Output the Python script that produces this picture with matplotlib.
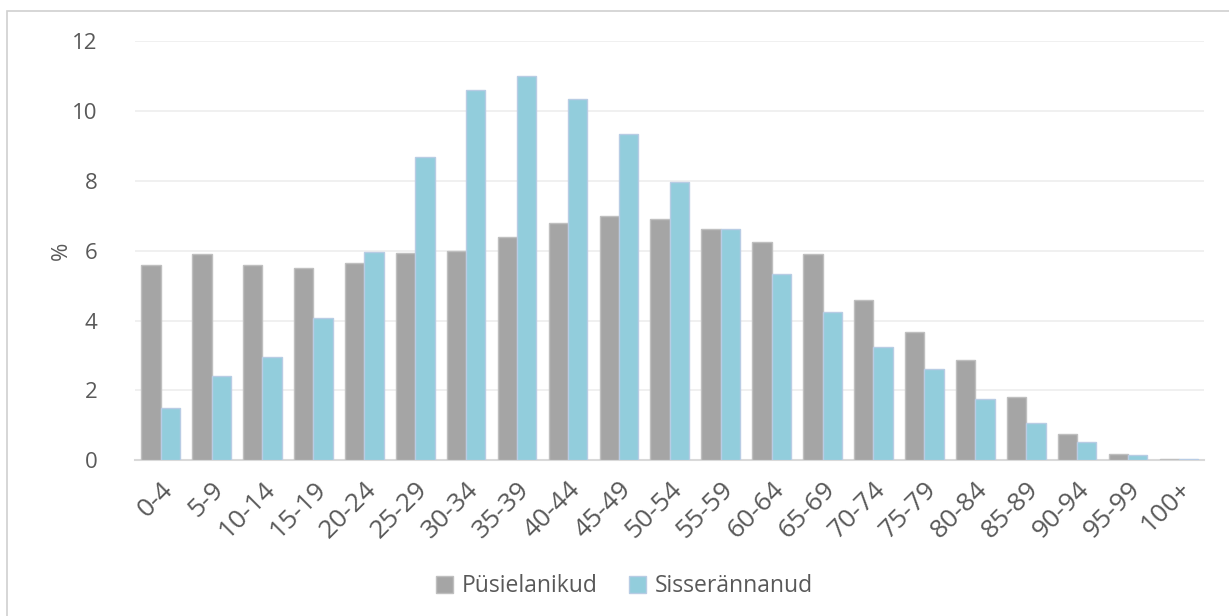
import numpy as np
import matplotlib.pyplot as plt
from matplotlib.patches import Rectangle

plt.rcParams['font.family'] = ['Open Sans', 'DejaVu Sans']

# andmed
vanus = ["0-4", "5-9", "10-14", "15-19", "20-24", "25-29", "30-34", "35-39",
         "40-44", "45-49", "50-54", "55-59", "60-64", "65-69", "70-74",
         "75-79", "80-84", "85-89", "90-94", "95-99", "100+"]
pusielanikud = [5.6, 5.9, 5.6, 5.5, 5.65, 5.93, 6.0, 6.4, 6.78, 7.0, 6.9,
                6.62, 6.24, 5.9, 4.58, 3.66, 2.87, 1.8, 0.74, 0.17, 0.03]
sisserannanud = [1.49, 2.41, 2.95, 4.07, 5.96, 8.68, 10.6, 11.0, 10.34, 9.34,
                 7.96, 6.62, 5.33, 4.24, 3.24, 2.61, 1.75, 1.06, 0.52, 0.14, 0.04]

tekst = "#595959"

fig = plt.figure(figsize=(12.29, 6.16), dpi=100)
ax = fig.add_axes([0.110, 0.253, 0.870, 0.680])

x = np.arange(len(vanus))
w = 0.38
ax.bar(x - w / 2, pusielanikud, w, color="#a5a5a5", edgecolor="#bfbfbf",
       linewidth=1, label="Püsielanikud", zorder=3)
ax.bar(x + w / 2, sisserannanud, w, color="#92cddc", edgecolor="#b8cce4",
       linewidth=1, label="Sisserännanud", zorder=3)

ax.set_xlim(-0.5, len(vanus) - 0.5)
ax.set_ylim(0, 12)
ax.set_yticks(range(0, 13, 2))
ax.set_xticks(x)
ax.set_xticklabels(vanus, rotation=45, ha="right", rotation_mode="anchor")
ax.tick_params(axis="y", length=0, labelsize=16, colors=tekst, pad=27)
ax.tick_params(axis="x", length=0, labelsize=19, colors=tekst, pad=12)
ax.set_ylabel("%", fontsize=16, color=tekst, labelpad=0)

ax.grid(axis="y", color="#eeeeee", linewidth=1.2, zorder=0)
for s in ["top", "right", "left"]:
    ax.spines[s].set_visible(False)
ax.spines["bottom"].set_color("#d9d9d9")
ax.spines["bottom"].set_linewidth(1.5)

leg = fig.legend(loc="center", bbox_to_anchor=(0.508, 0.048), ncol=2,
                 frameon=False, fontsize=16.5, handlelength=0.75,
                 handleheight=0.75, handletextpad=0.35, columnspacing=1.4)
for t in leg.get_texts():
    t.set_color(tekst)

# raam ümber joonise
fig.patches.append(Rectangle((7 / 1229, -0.05), 1.0, 1.032,
                             transform=fig.transFigure, fill=False,
                             edgecolor="#d0d0d0", linewidth=1.2))

plt.savefig("out.png", dpi=100)
